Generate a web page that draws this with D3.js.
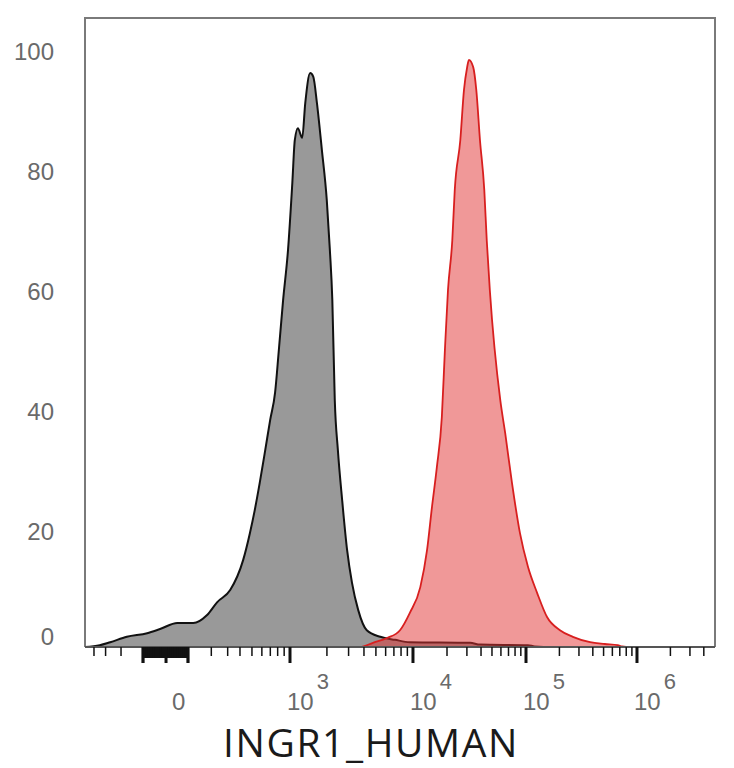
<!DOCTYPE html>
<html>
<head>
<meta charset="utf-8">
<script src="https://cdn.jsdelivr.net/npm/d3@7"></script>
<style>
  html, body { margin: 0; padding: 0; background: #fff; }
  svg { display: block; }
</style>
</head>
<body>
<svg id="chart" width="734" height="768"></svg>
<script>
// ---- data (histogram bins on a 0–1024 display-channel axis, % of max) ----
const controlChannels = [0, 24, 41, 68, 101, 122, 150, 176, 198, 215, 236, 257, 268, 276, 284, 293, 301, 309, 315, 322, 330, 337, 341, 346, 353, 358, 366, 371, 377, 385, 393, 398, 402, 406, 411, 418, 426, 434, 444, 458, 480, 504, 528, 626, 642, 720, 731, 760, 1024];
const controlCounts   = [0, 0.3, 0.8, 1.7, 2.3, 3.0, 4.0, 4.0, 5.3, 7.5, 9.5, 14.5, 19.0, 22.9, 27.4, 32.9, 37.9, 42.5, 49.5, 57.9, 66.3, 77.5, 84.6, 86.6, 85.0, 90.8, 95.8, 95.2, 90.8, 83.0, 74.6, 66.3, 57.9, 41.2, 32.9, 24.5, 16.2, 10.7, 6.2, 2.8, 1.7, 1.2, 0.8, 0.7, 0.4, 0.3, 0.1, 0, 0];

const stainedChannels = [0, 447, 468, 491, 512, 528, 545, 556, 564, 572, 580, 585, 590, 597, 601, 610, 616, 621, 624, 631, 636, 642, 649, 653, 658, 675, 683, 694, 707, 720, 735, 751, 772, 793, 821, 845, 866, 873, 886, 1024];
const stainedCounts   = [0, 0, 0.7, 1.5, 2.8, 5.7, 10.0, 16.2, 23.4, 30.1, 38.4, 49.6, 59.6, 67.9, 76.3, 84.6, 93.0, 96.7, 98.0, 96.8, 93.0, 84.6, 76.3, 67.9, 59.6, 41.2, 35.7, 27.4, 19.0, 13.4, 9.0, 5.0, 2.8, 1.7, 0.8, 0.5, 0.3, 0.1, 0, 0];

// ---- axis (biexponential display): calibration values -> display channel ----
const axisAnchorValues   = [-400, -100, 0, 100, 400, 1000, 1e4, 1e5, 1e6];
const axisAnchorChannels = [14.6, 94.3, 131.7, 167.4, 251.9, 333.2, 533.1, 716.8, 897.2];

const majorTickValues = [0, 1e3, 1e4, 1e5, 1e6];
const majorTickBases  = ["0", "10", "10", "10", "10"];
const majorTickExps   = ["", "3", "4", "5", "6"];
const nearZeroTicks = [-100, -90, -80, -70, -60, -50, -40, -30, -20, -10, 10, 20, 30, 40, 50, 60, 70, 80, 90, 100];
const minorTickValues = [-400, -300, -200,
  200, 300, 400, 500, 600, 700, 800, 900,
  2e3, 3e3, 4e3, 5e3, 6e3, 7e3, 8e3, 9e3,
  2e4, 3e4, 4e4, 5e4, 6e4, 7e4, 8e4, 9e4,
  2e5, 3e5, 4e5, 5e5, 6e5, 7e5, 8e5, 9e5,
  2e6, 3e6, 4e6];
const yTickValues = [0, 20, 40, 60, 80, 100];
const xAxisTitle = "INGR1_HUMAN";

// ---- layout ----
const svg = d3.select("#chart");
const plot = { left: 85, right: 715, top: 18, bottom: 647 };

const x = d3.scaleLinear().domain([0, 1024]).range([plot.left, plot.right]);
const y = d3.scaleLinear().domain([0, 105]).range([plot.bottom, plot.top]);

const asinhT = v => Math.asinh(v / 128);
const valueToChannel = d3.scaleLinear()
  .domain(axisAnchorValues.map(asinhT))
  .range(axisAnchorChannels);
const xv = v => x(valueToChannel(asinhT(v)));

// clip for the histograms
svg.append("clipPath").attr("id", "plotclip").append("rect")
  .attr("x", plot.left).attr("y", plot.top)
  .attr("width", plot.right - plot.left).attr("height", plot.bottom - plot.top);

const control = controlChannels.map((c, i) => ({ c, v: controlCounts[i] }));
const stained = stainedChannels.map((c, i) => ({ c, v: stainedCounts[i] }));

const area = d3.area().x(d => x(d.c)).y0(y(0)).y1(d => y(d.v)).curve(d3.curveMonotoneX);
const line = d3.line().x(d => x(d.c)).y(d => y(d.v)).curve(d3.curveMonotoneX);

const g = svg.append("g").attr("clip-path", "url(#plotclip)");
g.append("path").datum(control).attr("d", area).attr("fill", "#999999");
g.append("path").datum(control).attr("d", line).attr("fill", "none")
  .attr("stroke", "#111").attr("stroke-width", 2).attr("stroke-linejoin", "round");
g.append("path").datum(stained).attr("d", area).attr("fill", "rgba(226,50,50,0.5)");
g.append("path").datum(stained).attr("d", line).attr("fill", "none")
  .attr("stroke", "#d81f1f").attr("stroke-width", 1.8).attr("stroke-linejoin", "round");

// frame
svg.append("path")
  .attr("d", `M${plot.left},${plot.bottom} V${plot.top} H${plot.right} V${plot.bottom}`)
  .attr("fill", "none").attr("stroke", "#7a7a7a").attr("stroke-width", 2);
svg.append("line")
  .attr("x1", plot.left).attr("x2", plot.right)
  .attr("y1", plot.bottom).attr("y2", plot.bottom)
  .attr("stroke", "#555").attr("stroke-width", 2);

// x ticks
const tickG = svg.append("g").attr("stroke", "#111");
tickG.selectAll(".minor").data(minorTickValues).join("line")
  .attr("x1", d => xv(d)).attr("x2", d => xv(d))
  .attr("y1", plot.bottom).attr("y2", plot.bottom + 9)
  .attr("stroke-width", 1.5);
tickG.selectAll(".nz").data(nearZeroTicks).join("line")
  .attr("x1", d => xv(d)).attr("x2", d => xv(d))
  .attr("y1", plot.bottom).attr("y2", d => Math.abs(d) === 100 ? plot.bottom + 16 : plot.bottom + 11)
  .attr("stroke-width", 3.2);
tickG.selectAll(".major").data(majorTickValues).join("line")
  .attr("x1", d => xv(d)).attr("x2", d => xv(d))
  .attr("y1", plot.bottom).attr("y2", plot.bottom + 16)
  .attr("stroke-width", 3);

// x tick labels (base and exponent as separate texts)
const labelFont = "'Liberation Sans', Arial, sans-serif";
majorTickValues.forEach((v, i) => {
  const bx = v === 0 ? xv(v) + 6 : xv(v) - 3;
  const base = svg.append("text")
    .attr("x", bx).attr("y", 710)
    .attr("font-family", labelFont).attr("font-size", 24).attr("fill", "#6a6a6a")
    .text(majorTickBases[i]);
  if (majorTickExps[i]) {
    const w = base.node().getComputedTextLength();
    svg.append("text")
      .attr("x", bx + w + 3).attr("y", 689)
      .attr("font-family", labelFont).attr("font-size", 22).attr("fill", "#6a6a6a")
      .text(majorTickExps[i]);
  }
});

// y tick labels
svg.append("g").selectAll("text").data(yTickValues).join("text")
  .attr("x", 54)
  .attr("y", d => Math.min(y(d) + 4, plot.bottom - 10))
  .attr("dy", "0.35em")
  .attr("text-anchor", "end")
  .attr("font-family", labelFont).attr("font-size", 24).attr("fill", "#6a6a6a")
  .text(d => d);

// x axis title
svg.append("text")
  .attr("x", 371).attr("y", 757)
  .attr("text-anchor", "middle")
  .attr("font-family", "'Open Sans', 'Noto Sans', sans-serif")
  .attr("font-size", 39).attr("letter-spacing", 1.6).attr("fill", "#1a1a1a")
  .text(xAxisTitle);
</script>
</body>
</html>
